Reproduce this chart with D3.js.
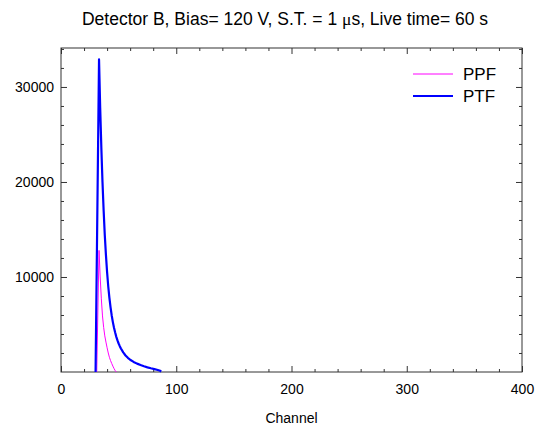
<!DOCTYPE html>
<html>
<head>
<meta charset="utf-8">
<script src="https://cdn.jsdelivr.net/npm/d3@7"></script>
<style>
  body { margin: 0; background: #fff; }
  text { font-family: "Liberation Sans", Arial, sans-serif; fill: #000; }
</style>
</head>
<body>
<div id="chart"></div>
<script>
// channels and counts
var ptfChannels = [30, 33, 34, 35, 36, 37, 38, 39, 40, 41, 42, 43, 44, 45, 46, 47, 48, 49, 50, 51, 52, 54, 56, 58, 60, 63, 66, 69, 72, 75, 78, 81, 84, 86, 87];
var ptfCounts   = [0, 32900, 27800, 23600, 20000, 17000, 14400, 12300, 10500, 9000, 7800, 6800, 5950, 5250, 4650, 4150, 3700, 3320, 3000, 2720, 2470, 2060, 1740, 1490, 1290, 1060, 880, 730, 600, 490, 390, 300, 210, 130, 60];

var ppfChannels = [31, 33, 34, 35, 36, 37, 38, 39, 40, 41, 42, 43, 44, 45, 46, 47, 48];
var ppfCounts   = [0, 12800, 10000, 7700, 5900, 4700, 3800, 3150, 2550, 2000, 1550, 1200, 900, 620, 370, 150, 0];

var xMajor = [0, 100, 200, 300, 400];
var yMajor = [10000, 20000, 30000];

var svgWidth = 535;
var svgHeight = 427;

var margin = {
  top: 48,
  right: 13,
  bottom: 55,
  left: 61
};

var chartWidth = svgWidth - margin.left - margin.right;
var chartHeight = svgHeight - margin.top - margin.bottom;

var svg = d3.select("#chart")
  .append("svg")
  .attr("width", svgWidth)
  .attr("height", svgHeight);

var chartGroup = svg.append("g")
  .attr("transform", `translate(${margin.left}, ${margin.top})`);

var xScale = d3.scaleLinear().domain([0, 400]).range([0, chartWidth]);
var yScale = d3.scaleLinear().domain([0, 34100]).range([chartHeight, 0]);

var xMinor = d3.range(0, 401, 20).filter(d => d % 100 !== 0);
var yMinor = d3.range(0, 34001, 2000).filter(d => d % 10000 !== 0);

// major axes with labels, ticks pointing inward
chartGroup.append("g")
  .attr("class", "axis")
  .attr("transform", `translate(0, ${chartHeight})`)
  .call(d3.axisBottom(xScale).tickValues(xMajor).tickSize(-6).tickPadding(12).tickFormat(d3.format("d")));

chartGroup.append("g")
  .attr("class", "axis")
  .call(d3.axisLeft(yScale).tickValues(yMajor).tickSize(-6).tickPadding(7).tickFormat(d3.format("d")));

// minor ticks
chartGroup.append("g")
  .attr("class", "axis")
  .attr("transform", `translate(0, ${chartHeight})`)
  .call(d3.axisBottom(xScale).tickValues(xMinor).tickSize(-3).tickFormat(""));

chartGroup.append("g")
  .attr("class", "axis")
  .call(d3.axisLeft(yScale).tickValues(yMinor).tickSize(-3).tickFormat(""));

// mirrored ticks top and right
chartGroup.append("g")
  .attr("class", "axis")
  .call(d3.axisTop(xScale).tickValues(xMajor).tickSize(-6).tickFormat(""));
chartGroup.append("g")
  .attr("class", "axis")
  .call(d3.axisTop(xScale).tickValues(xMinor).tickSize(-3).tickFormat(""));
chartGroup.append("g")
  .attr("class", "axis")
  .attr("transform", `translate(${chartWidth}, 0)`)
  .call(d3.axisRight(yScale).tickValues(yMajor).tickSize(-6).tickFormat(""));
chartGroup.append("g")
  .attr("class", "axis")
  .attr("transform", `translate(${chartWidth}, 0)`)
  .call(d3.axisRight(yScale).tickValues(yMinor).tickSize(-3).tickFormat(""));

chartGroup.selectAll(".axis .domain").remove();
chartGroup.selectAll(".axis line").attr("stroke", "#333");
chartGroup.selectAll(".axis text")
  .style("font-size", "14px")
  .style("font-family", "'Liberation Sans', Arial, sans-serif")
  .attr("fill", "#000");

// frame
chartGroup.append("rect")
  .attr("x", 0)
  .attr("y", 0)
  .attr("width", chartWidth)
  .attr("height", chartHeight)
  .attr("fill", "none")
  .attr("stroke", "#333")
  .attr("stroke-width", 1);

var line = d3.line()
  .x(d => xScale(d[0]))
  .y(d => yScale(d[1]));

var ppfData = ppfChannels.map((c, i) => [c, ppfCounts[i]]);
var ptfData = ptfChannels.map((c, i) => [c, ptfCounts[i]]);

chartGroup.append("path")
  .datum(ppfData)
  .attr("d", line)
  .attr("fill", "none")
  .attr("stroke", "#ff00ff")
  .attr("stroke-width", 1);

chartGroup.append("path")
  .datum(ptfData)
  .attr("d", line)
  .attr("fill", "none")
  .attr("stroke", "#0000ff")
  .attr("stroke-width", 2.2)
  .attr("stroke-linejoin", "round");

// legend
var legendItems = [
  { name: "PPF", color: "#ff00ff", width: 1 },
  { name: "PTF", color: "#0000ff", width: 2.2 }
];
var legend = svg.selectAll(".legend")
  .data(legendItems)
  .enter()
  .append("g")
  .attr("transform", (d, i) => `translate(413, ${74 + i * 22})`);
legend.append("line")
  .attr("x1", 0).attr("x2", 40)
  .attr("stroke", d => d.color)
  .attr("stroke-width", d => d.width);
legend.append("text")
  .attr("x", 50)
  .attr("dy", "0.36em")
  .style("font-size", "17px")
  .text(d => d.name);

// title
var title = svg.append("text")
  .attr("x", 285)
  .attr("y", 25)
  .attr("text-anchor", "middle")
  .style("font-size", "17.5px");
title.append("tspan").text("Detector B, Bias= 120 V, S.T. = 1 ");
title.append("tspan").style("font-family", "'Liberation Serif', serif").text("\u03bc");
title.append("tspan").text("s, Live time= 60 s");

// x axis label
svg.append("text")
  .attr("x", margin.left + chartWidth / 2)
  .attr("y", 423)
  .attr("text-anchor", "middle")
  .style("font-size", "14px")
  .text("Channel");
</script>
</body>
</html>
